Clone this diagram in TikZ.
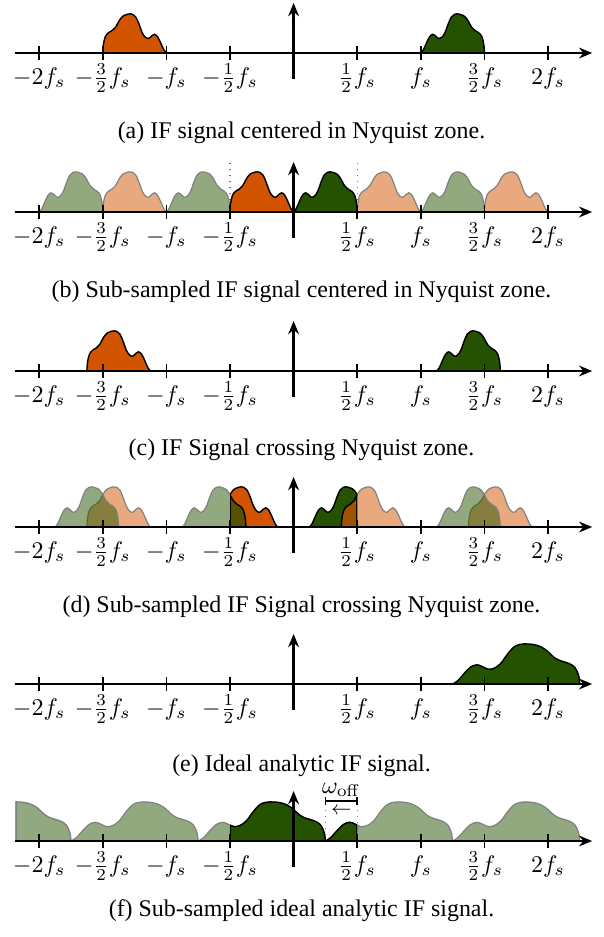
\documentclass[tikz,border=0pt]{standalone}
\usepackage[no-math]{fontspec}
\newfontfamily\capfont{Liberation Serif}
\usetikzlibrary{arrows.meta}
\definecolor{oC}{RGB}{211,84,0}
\definecolor{gC}{RGB}{37,82,0}
\definecolor{lineG}{RGB}{128,128,128}
\tikzset{
 shapeO/.style={insert path={plot[smooth,tension=0.6] coordinates {(0,0) (0.01,0.22) (0.04,0.42) (0.09,0.52) (0.15,0.58) (0.2,0.66) (0.27,0.86) (0.33,0.96) (0.40,1.0) (0.47,0.99) (0.52,0.92) (0.57,0.74) (0.62,0.52) (0.67,0.40) (0.72,0.37) (0.77,0.44) (0.81,0.48) (0.86,0.42) (0.91,0.26) (0.96,0.08) (1,0)} -- cycle}},
 axisline/.style={line width=1.1pt,-{Stealth[length=5.5pt,width=4.5pt]}},
 tickline/.style={line width=0.6pt},
 solidsig/.style={draw=black,line width=0.6pt},
 lightsig/.style={draw=lineG,line width=0.5pt,fill opacity=0.5},
 zoneline/.style={draw=lineG!90!black,dotted,line width=0.5pt},
 lbl/.style={anchor=base,inner sep=0pt},
 capt/.style={anchor=base,inner sep=0pt,font=\capfont},
 panel/.style={shift={(293.6,#1)},x=26.579pt,y=0.41791pt},
}
\newcommand\sigshape[4]{\begin{scope}[shift={(#1,0)},xscale=#2,yscale=#3]\path[#4,shapeO];\end{scope}}
\newcommand\sigedge[6]{\begin{scope}[shift={(#1,0)},xscale=#2,yscale=#3]
 \fill[#4,shapeO];
 \begin{scope}\clip[shapeO];\draw[#6,line width=1.2pt] (#5,0) -- (#5,1.5);\end{scope}
 \draw[#6,line width=0.6pt,shapeO];\end{scope}}
\newcommand\axes[1]{%
 \foreach \x in {-4,-3,-2,-1,1,2,3,4}{\draw[tickline] (\x,-7) -- (\x,7);}
 \draw[axisline] (-4.374,0) -- (4.695,0);
 \draw[axisline] (0,-26) -- (0,50);
 \node[lbl] (#1-m4) at (-4,-31) {$-2f_s$};
 \node[lbl] (#1-m3) at (-3,-31) {$-\frac{3}{2}f_s$};
 \node[lbl] (#1-m2) at (-2,-31) {$-f_s$};
 \node[lbl] (#1-m1) at (-1,-31) {$-\frac{1}{2}f_s$};
 \node[lbl] (#1-p1) at (1,-31) {$\frac{1}{2}f_s$};
 \node[lbl] (#1-p2) at (2,-31) {$f_s$};
 \node[lbl] (#1-p3) at (3,-31) {$\frac{3}{2}f_s$};
 \node[lbl] (#1-p4) at (4,-31) {$2f_s$};
}
\begin{document}
\begin{tikzpicture}[x=0.41791pt,y=-0.41791pt]
\useasboundingbox (0,0) rectangle (603,937);
% (a)
\begin{scope}[panel=53]
 \sigshape{-3}{1}{39}{fill=oC,solidsig}
 \sigshape{3}{-1}{39}{fill=gC,solidsig}
 \axes{a}
\end{scope}
\node[capt] (capa) at (301.5,138) {(a) IF signal centered in Nyquist zone.};
% (b)
\begin{scope}[panel=212]
 \draw[zoneline] (-1,0) -- (-1,52);
 \draw[zoneline] (1,0) -- (1,52);
 \sigshape{-3}{-1}{40}{fill=gC,lightsig}
 \sigshape{-3}{1}{40}{fill=oC,lightsig}
 \sigshape{-1}{-1}{40}{fill=gC,lightsig}
 \sigshape{-1}{1}{40}{fill=oC,solidsig}
 \sigshape{1}{-1}{40}{fill=gC,solidsig}
 \sigshape{1}{1}{40}{fill=oC,lightsig}
 \sigshape{3}{-1}{40}{fill=gC,lightsig}
 \sigshape{3}{1}{40}{fill=oC,lightsig}
 \axes{b}
\end{scope}
\node[capt] (capb) at (301.5,297) {(b) Sub-sampled IF signal centered in Nyquist zone.};
% (c)
\begin{scope}[panel=371]
 \sigshape{-3.25}{1}{40}{fill=oC,solidsig}
 \sigshape{3.25}{-1}{40}{fill=gC,solidsig}
 \axes{c}
\end{scope}
\node[capt] (capc) at (301.5,455) {(c) IF Signal crossing Nyquist zone.};
% (d)
\begin{scope}[panel=527]
 \sigshape{-3.25}{1}{40}{fill=oC,lightsig}
 \sigshape{-2.75}{-1}{40}{fill=gC,lightsig}
 \sigshape{-0.75}{-1}{40}{fill=gC,lightsig}
 \sigshape{0.75}{1}{40}{fill=oC,lightsig}
 \sigshape{2.75}{1}{40}{fill=oC,lightsig}
 \sigshape{3.25}{-1}{40}{fill=gC,lightsig}
 \begin{scope}
  \clip (-1,-10) rectangle (1,100);
  \sigedge{-1.25}{1}{40}{oC}{0.25}{black}
  \sigedge{-0.75}{-1}{40}{gC,fill opacity=0.7}{0.25}{black}
  \sigedge{1.25}{-1}{40}{gC}{0.25}{black}
  \sigedge{0.75}{1}{40}{oC,fill opacity=0.7}{0.25}{black}
 \end{scope}
 \axes{d}
\end{scope}
\node[capt] (capd) at (301.5,612) {(d) Sub-sampled IF Signal crossing Nyquist zone.};
% (e)
\begin{scope}[panel=684]
 \sigshape{4.5}{-2}{40}{fill=gC,solidsig}
 \axes{e}
\end{scope}
\node[capt] (cape) at (301.5,771) {(e) Ideal analytic IF signal.};
% (f)
\begin{scope}[panel=841]
 \draw[zoneline] (0.5,0) -- (0.5,40);
 \draw[zoneline] (1,0) -- (1,40);
 \begin{scope}
  \clip (-4.374,-10) rectangle (4.695,100);
  \sigedge{-3.5}{-2}{39}{gC,fill opacity=0.5}{0.437}{lineG}
  \sigshape{-1.5}{-2}{39}{fill=gC,lightsig}
  \sigshape{0.5}{-2}{39}{fill=gC,lightsig}
  \sigshape{2.5}{-2}{39}{fill=gC,lightsig}
  \sigshape{4.5}{-2}{39}{fill=gC,lightsig}
 \end{scope}
 \begin{scope}
  \clip (-1,-10) rectangle (1,100);
  \sigedge{0.5}{-2}{39}{gC}{0.75}{black}
  \sigedge{2.5}{-2}{39}{gC}{0.75}{black}
 \end{scope}
 \draw[line width=0.6pt] (0.5,40) -- (1,40);
 \draw[line width=0.6pt] (0.5,36) -- (0.5,44);
 \draw[line width=0.6pt] (1,36) -- (1,44);
 \node[anchor=base,inner sep=0pt] (woff) at (0.75,48) {$\omega_{\mathrm{off}}$};
 \node[inner sep=0pt,font=\footnotesize] (warr) at (0.75,30) {$\leftarrow$};
 \axes{f}
\end{scope}
\node[capt] (capf) at (301.5,916) {(f) Sub-sampled ideal analytic IF signal.};
\end{tikzpicture}
\end{document}
